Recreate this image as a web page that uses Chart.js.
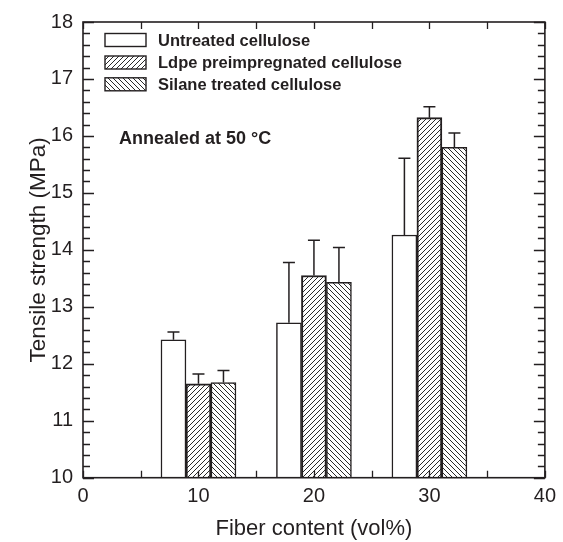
<!DOCTYPE html>
<html>
<head>
<meta charset="utf-8">
<script src="https://cdn.jsdelivr.net/npm/chart.js@4.4.1/dist/chart.umd.min.js"></script>
<style>
  html, body { margin: 0; padding: 0; background: #fff; }
  #wrap { width: 563px; height: 542px; }
</style>
</head>
<body>
<div id="wrap"><canvas id="c" width="563" height="542"></canvas></div>
<script>
// ---- data ----
const fiberContent = [10, 20, 30];
const seriesLabels = ['Untreated cellulose', 'Ldpe preimpregnated cellulose', 'Silane treated cellulose'];
const untreated = [12.42, 12.72, 14.26];
const untreatedErr = [0.14, 1.06, 1.35];
const ldpe = [11.65, 13.55, 16.32];
const ldpeErr = [0.17, 0.62, 0.19];
const silane = [11.67, 13.43, 15.80];
const silaneErr = [0.21, 0.61, 0.25];
const xTickValues = [0, 10, 20, 30, 40];
const yTickValues = [10, 11, 12, 13, 14, 15, 16, 17, 18];
const annotationText = 'Annealed at 50 \u00B0C';
const xTitle = 'Fiber content (vol%)';
const yTitle = 'Tensile strength (MPa)';

const INK = '#231f20';
const FONT = '"Liberation Sans", Arial, Helvetica, sans-serif';

function hatch(dir) {
  const s = 5;
  const c = document.createElement('canvas');
  c.width = s; c.height = s;
  const g = c.getContext('2d');
  g.fillStyle = '#fff'; g.fillRect(0, 0, s, s);
  g.strokeStyle = '#2a2a2a'; g.lineWidth = 1;
  g.beginPath();
  if (dir === '/') {
    g.moveTo(-1, s + 1); g.lineTo(s + 1, -1);
    g.moveTo(-1, 1); g.lineTo(1, -1);
    g.moveTo(s - 1, s + 1); g.lineTo(s + 1, s - 1);
  } else {
    g.moveTo(-1, -1); g.lineTo(s + 1, s + 1);
    g.moveTo(s - 1, -1); g.lineTo(s + 1, 1);
    g.moveTo(-1, s - 1); g.lineTo(1, s + 1);
  }
  g.stroke();
  return g.createPattern(c, 'repeat');
}
const patFwd = hatch('/');
const patBack = hatch('\\');

function pts(vals) { return fiberContent.map((x, i) => ({ x: x, y: vals[i] })); }

const errs = [untreatedErr, ldpeErr, silaneErr];
const fills = ['#ffffff', patFwd, patBack];
const widths = [1.5, 2, 1.5];

const frameTicks = {
  id: 'frameTicks',
  afterDatasetsDraw(chart) {
    const ctx = chart.ctx;
    const xs = chart.scales.x, ys = chart.scales.y;
    const a = chart.chartArea;
    ctx.save();
    // error bars
    chart.data.datasets.forEach((ds, di) => {
      const meta = chart.getDatasetMeta(di);
      meta.data.forEach((bar, i) => {
        const top = ys.getPixelForValue(ds.data[i].y + errs[di][i]);
        ctx.strokeStyle = INK; ctx.lineWidth = 1.5;
        ctx.beginPath();
        ctx.moveTo(bar.x, bar.y); ctx.lineTo(bar.x, top);
        ctx.moveTo(bar.x - 6, top); ctx.lineTo(bar.x + 6, top);
        ctx.stroke();
      });
    });
    // frame
    ctx.strokeStyle = INK; ctx.lineWidth = 1.6;
    ctx.strokeRect(a.left, a.top, a.right - a.left, a.bottom - a.top);
    ctx.lineWidth = 1.3;
    ctx.beginPath();
    // y ticks
    for (let v = ys.min; v <= ys.max + 1e-9; v += 0.2) {
      const y = Math.round(ys.getPixelForValue(v)) + 0.5;
      const major = Math.abs(v - Math.round(v)) < 1e-6;
      const L = major ? 11 : 7;
      ctx.moveTo(a.left, y); ctx.lineTo(a.left + L, y);
      ctx.moveTo(a.right, y); ctx.lineTo(a.right - L, y);
    }
    // x ticks
    for (let v = xs.min; v <= xs.max + 1e-9; v += 5) {
      const x = Math.round(xs.getPixelForValue(v)) + 0.5;
      ctx.moveTo(x, a.bottom); ctx.lineTo(x, a.bottom - 7);
      ctx.moveTo(x, a.top); ctx.lineTo(x, a.top + 7);
    }
    ctx.stroke();
    ctx.restore();
  },
  afterDraw(chart) {
    const ctx = chart.ctx;
    ctx.save();
    const rows = [40, 62.5, 84.3];
    chart.data.datasets.forEach((ds, di) => {
      const cy = rows[di];
      ctx.fillStyle = fills[di];
      ctx.fillRect(105, cy - 6.5, 41, 13);
      ctx.strokeStyle = INK; ctx.lineWidth = 1.4;
      ctx.strokeRect(105, cy - 6.5, 41, 13);
      ctx.fillStyle = INK;
      ctx.font = 'bold 16.5px ' + FONT;
      ctx.textAlign = 'left'; ctx.textBaseline = 'middle';
      ctx.fillText(ds.label, 158, cy + 1);
    });
    ctx.font = 'bold 18px ' + FONT;
    ctx.textBaseline = 'alphabetic';
    ctx.fillText(annotationText, 119, 144);
    ctx.restore();
  }
};

new Chart(document.getElementById('c'), {
  type: 'bar',
  data: {
    datasets: [
      { label: seriesLabels[0], data: pts(untreated), backgroundColor: fills[0], borderColor: INK, borderWidth: widths[0] },
      { label: seriesLabels[1], data: pts(ldpe), backgroundColor: fills[1], borderColor: INK, borderWidth: widths[1] },
      { label: seriesLabels[2], data: pts(silane), backgroundColor: fills[2], borderColor: INK, borderWidth: widths[2] }
    ]
  },
  options: {
    responsive: false,
    animation: false,
    devicePixelRatio: 1,
    layout: { padding: { top: 15, right: 15, left: 0, bottom: 0 } },
    datasets: { bar: { barThickness: 25, base: 10, borderSkipped: 'start' } },
    plugins: { legend: { display: false }, tooltip: { enabled: false } },
    scales: {
      x: {
        type: 'linear', min: 0, max: 40, offset: false,
        afterBuildTicks: s => { s.ticks = xTickValues.map(v => ({ value: v })); },
        afterFit: s => { s.height = 64.3; },
        grid: { display: false, drawTicks: false },
        border: { display: false },
        ticks: { color: INK, font: { family: FONT, size: 20 }, padding: 7, maxRotation: 0 },
        title: { display: true, text: xTitle, color: INK, font: { family: FONT, size: 22 }, padding: { top: 0, bottom: 0 } }
      },
      y: {
        type: 'linear', min: 10, max: 18,
        afterBuildTicks: s => { s.ticks = yTickValues.map(v => ({ value: v })); },
        afterFit: s => { s.width = 83; },
        grid: { display: false, drawTicks: false },
        border: { display: false },
        ticks: { color: INK, font: { family: FONT, size: 20 }, padding: 10 },
        title: { display: true, text: yTitle, color: INK, font: { family: FONT, size: 22.5 }, padding: { top: 25, bottom: 0 } }
      }
    }
  },
  plugins: [frameTicks]
});
</script>
</body>
</html>
